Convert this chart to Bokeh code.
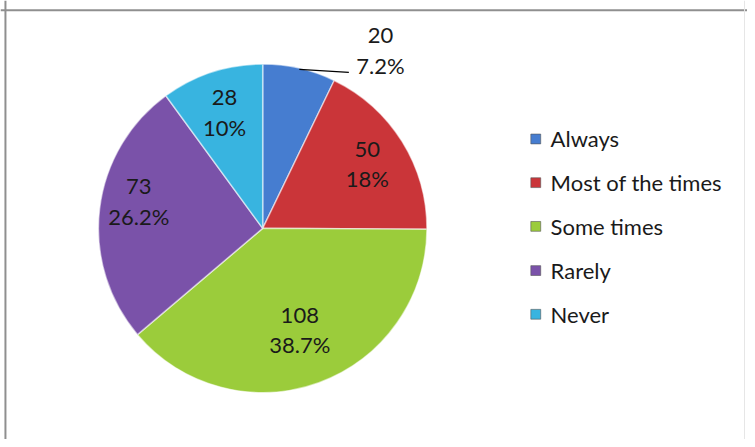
import numpy as np
from bokeh.plotting import figure
from bokeh.models import ColumnDataSource, Range1d, Span
from bokeh.core.properties import value
from bokeh.embed import file_html
from bokeh.resources import INLINE

# ---- data ----
categories = ["Always", "Most of the times", "Some times", "Rarely", "Never"]
counts = [20, 50, 108, 73, 28]
percent_labels = ["7.2%", "18%", "38.7%", "26.2%", "10%"]
colors = ["#467DD0", "#CA3539", "#9BCC3B", "#7A52A9", "#38B4E0"]

FONT = "Lato"
W, H = 747, 439
# data coords follow the reference picture: x = image x, y = 447 - image y
p = figure(width=W, height=H, x_range=Range1d(0, 755), y_range=Range1d(0, 447),
           output_backend="svg", toolbar_location=None, min_border=0)
p.axis.visible = False
p.grid.visible = False
p.outline_line_color = None
p.background_fill_color = "white"
p.border_fill_color = "white"

# frame border (cut off at right/bottom as in reference)
p.add_layout(Span(location=5, dimension="height", line_color="#8f8f8f", line_width=2))
p.add_layout(Span(location=437, dimension="width", line_color="#8f8f8f", line_width=2))
p.add_layout(Span(location=752, dimension="height", line_color="#e6e6e6", line_width=1))

cx, cy, R = 265, 447 - 232, 166
total = float(sum(counts))
frac = np.array(counts) / total
cum_end = np.cumsum(frac)
cum_start = cum_end - frac
start = np.pi / 2 - 2 * np.pi * cum_start
end = np.pi / 2 - 2 * np.pi * cum_end
mid = (start + end) / 2

src = ColumnDataSource(dict(start=start, end=end, color=colors, cat=categories))
p.wedge(x=cx, y=cy, radius=R, start_angle="start", end_angle="end", direction="clock",
        fill_color="color", line_color="white", line_alpha=0.55, line_width=1.5, source=src)

# data labels
labels = [f"{c}\n{pl}" for c, pl in zip(counts, percent_labels)]
rf = np.array([1.0, 0.75, 0.66, 0.76, 0.75])
ddy = np.array([0, 0, 0, 13, 0])
lx = cx + rf * R * np.cos(mid)
ly = cy + rf * R * np.sin(mid) + ddy
# first slice label placed outside with leader line
ax0 = cx + R * np.cos(mid[0])
ay0 = cy + R * np.sin(mid[0])
p.line(x=[ax0, ax0 + 50], y=[ay0, ay0 - 3], line_color="black", line_width=1.3)
lx[0] = ax0 + 82
ly[0] = ay0 + 20

lsrc = ColumnDataSource(dict(x=lx, y=ly, t=labels))
p.text(x="x", y="y", text="t", source=lsrc, text_align="center", text_baseline="middle",
       text_font=value(FONT), text_font_size="22px", text_color="#1a1a1a", text_line_height=1.13)

# legend
ly_leg = 447 - np.array([141, 185.5, 230, 275, 319.5])
legsrc = ColumnDataSource(dict(x=[541] * 5, tx=[556] * 5, y=ly_leg, color=colors, cat=categories))
p.rect(x="x", y="y", width=10, height=10, fill_color="color", line_color="#555555",
       line_width=0.6, source=legsrc)
p.text(x="tx", y="y", text="cat", source=legsrc, text_align="left", text_baseline="middle",
       text_font=value(FONT), text_font_size="22px", text_color="#1a1a1a")

open("out.html", "w").write(file_html(p, INLINE))
